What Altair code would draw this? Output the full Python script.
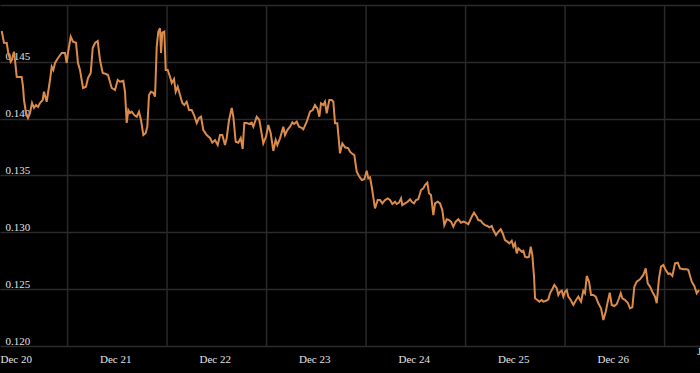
import altair as alt
import pandas as pd

# time in hours since Dec 20 00:00
hours = [0.41, 0.96, 1.62, 2.0, 2.58, 2.82, 3.38, 3.62, 4.03, 4.58, 5.23, 5.55, 5.79, 6.27, 6.75, 7.24,
         7.72, 8.2, 8.68, 9.17, 9.65, 10.3, 10.61, 11.26, 12.06, 12.47, 12.86, 13.27, 13.99, 14.88, 15.68,
         16.09, 16.4, 17.05, 17.61, 18.33, 18.81, 19.3, 20.02, 20.74, 21.23, 21.88, 22.36, 22.92, 23.57,
         24.12, 24.77, 25.57, 26.05, 26.94, 27.74, 28.39, 28.95, 29.74, 30.15, 30.56, 30.95, 31.36, 31.77,
         32.39, 32.97, 33.53, 34.01, 34.57, 35.14, 35.53, 35.94, 36.42, 36.98, 37.39, 37.8, 38.18, 38.59,
         38.84, 39.15, 39.63, 39.97, 40.45, 41.01, 41.42, 41.97, 42.38, 42.86, 43.42, 43.97, 44.46, 45.03,
         45.59, 46.24, 46.8, 47.45, 48.0, 48.48, 49.04, 49.86, 50.65, 51.21, 51.86, 52.51, 53.07, 53.62,
         54.27, 54.68, 55.24, 55.89, 56.28, 56.85, 57.48, 58.06, 58.54, 58.93, 59.51, 60.13, 60.71, 61.1,
         61.92, 62.55, 63.51, 64.16, 64.72, 65.3, 65.92, 66.5, 66.89, 67.54, 68.34, 68.74, 69.3, 69.95,
         70.51, 70.92, 71.57, 72.12, 72.77, 73.16, 73.98, 74.78, 75.42, 75.98, 76.54, 77.02, 77.43, 77.99,
         78.39, 78.8, 79.43, 80.01, 80.4, 80.81, 81.36, 82.01, 82.57, 83.22, 84.01, 84.42, 84.83, 85.46,
         86.04, 86.59, 87.25, 87.87, 88.45, 88.84, 89.25, 89.66, 90.45, 91.1, 91.66, 92.22, 92.87, 93.51,
         94.07, 94.63, 95.28, 95.69, 96.24, 96.73, 97.04, 97.69, 98.34, 98.9, 99.31, 99.86, 100.34, 100.9,
         101.55, 102.1, 102.51, 103.07, 103.48, 103.96, 104.52, 104.93, 105.58, 106.13, 106.69, 107.17,
         107.75, 108.3, 108.79, 109.34, 109.92, 110.55, 111.2, 111.76, 112.29, 112.96, 113.78, 114.33,
         114.98, 115.37, 115.95, 116.43, 116.99, 117.54, 118.02, 118.6, 118.99, 119.64, 120.19, 120.78,
         121.26, 121.81, 122.37, 122.85, 123.43, 123.82, 124.22, 124.63, 125.02, 125.43, 125.84, 126.23,
         126.64, 127.19, 127.6, 128.01, 128.4, 128.81, 129.05, 129.6, 130.09, 130.66, 131.05, 131.7,
         132.26, 132.66, 133.32, 133.7, 134.28, 134.67, 135.08, 135.49, 135.88, 136.28, 136.69, 137.08,
         137.66, 138.29, 138.94, 139.5, 140.14, 140.7, 141.11, 141.52, 142.08, 142.56, 143.11, 143.69,
         144.32, 144.97, 145.53, 146.1, 146.59, 147.07, 147.55, 148.17, 148.75, 149.31, 149.72, 150.11,
         150.76, 151.41, 151.96, 152.52, 153.0, 153.58, 154.37, 155.17, 155.75, 156.23, 156.79, 157.34,
         157.99, 158.4, 158.96, 159.44, 160.0, 160.57, 161.2, 161.61, 162.17, 162.82, 163.47, 164.02,
         164.82, 165.64, 166.03, 166.85, 167.47, 168.05, 168.6]

values = [0.14771, 0.14668, 0.14666, 0.14578, 0.14501, 0.14516, 0.14589, 0.14516, 0.14369, 0.14367,
          0.14367, 0.14281, 0.14164, 0.14050, 0.14006, 0.14050, 0.14138, 0.14094, 0.14120, 0.14103,
          0.14138, 0.14164, 0.14237, 0.14149, 0.14340, 0.14457, 0.14428, 0.14490, 0.14534, 0.14578,
          0.14578, 0.14490, 0.14578, 0.14721, 0.14677, 0.14668, 0.14490, 0.14428, 0.14270, 0.14281,
          0.14358, 0.14402, 0.14622, 0.14666, 0.14683, 0.14516, 0.14402, 0.14393, 0.14384, 0.14270,
          0.14252, 0.14340, 0.14325, 0.14334, 0.14237, 0.13962, 0.14076, 0.14050, 0.14061, 0.14032,
          0.14017, 0.14061, 0.13988, 0.13856, 0.13874, 0.13929, 0.14208, 0.14237, 0.14228, 0.14193,
          0.14633, 0.14765, 0.14795, 0.14578, 0.14756, 0.14765, 0.14428, 0.14428, 0.14369, 0.14314,
          0.14349, 0.14237, 0.14281, 0.14208, 0.14138, 0.14120, 0.14149, 0.14076, 0.14076, 0.14032,
          0.13962, 0.14006, 0.14017, 0.13900, 0.13856, 0.13830, 0.13789, 0.13812, 0.13768, 0.13856,
          0.13856, 0.13768, 0.13830, 0.13988, 0.14094, 0.14017, 0.13797, 0.13789, 0.13830, 0.13733,
          0.13962, 0.13962, 0.13953, 0.13964, 0.13929, 0.14017, 0.13988, 0.13783, 0.13841, 0.13944,
          0.13871, 0.13716, 0.13812, 0.13768, 0.13827, 0.13929, 0.13856, 0.13900, 0.13929, 0.13968,
          0.13953, 0.13973, 0.13929, 0.13920, 0.13906, 0.13973, 0.14061, 0.14076, 0.14120, 0.14091,
          0.14017, 0.14135, 0.14120, 0.14149, 0.14047, 0.14164, 0.14164, 0.14149, 0.13959, 0.13959,
          0.13695, 0.13783, 0.13748, 0.13739, 0.13709, 0.13695, 0.13680, 0.13533, 0.13496, 0.13460,
          0.13467, 0.13542, 0.13475, 0.13484, 0.13401, 0.13211, 0.13284, 0.13284, 0.13255, 0.13284,
          0.13299, 0.13284, 0.13249, 0.13269, 0.13249, 0.13261, 0.13299, 0.13240, 0.13255, 0.13269,
          0.13291, 0.13269, 0.13255, 0.13284, 0.13291, 0.13372, 0.13387, 0.13416, 0.13437, 0.13343,
          0.13328, 0.13152, 0.13255, 0.13269, 0.13255, 0.13196, 0.13064, 0.13115, 0.13108, 0.13094,
          0.13050, 0.13094, 0.13115, 0.13085, 0.13094, 0.13087, 0.13071, 0.13138, 0.13173, 0.13138,
          0.13108, 0.13102, 0.13079, 0.13064, 0.13056, 0.13044, 0.13056, 0.13020, 0.12976, 0.13005,
          0.13027, 0.12991, 0.12932, 0.12918, 0.12903, 0.12926, 0.12874, 0.12903, 0.12815, 0.12859,
          0.12845, 0.12830, 0.12838, 0.12786, 0.12780, 0.12786, 0.12874, 0.12800, 0.12610, 0.12420,
          0.12405, 0.12390, 0.12405, 0.12390, 0.12398, 0.12411, 0.12464, 0.12508, 0.12537, 0.12508,
          0.12449, 0.12478, 0.12486, 0.12434, 0.12478, 0.12493, 0.12434, 0.12405, 0.12361, 0.12405,
          0.12434, 0.12390, 0.12486, 0.12464, 0.12616, 0.12566, 0.12449, 0.12449, 0.12434, 0.12376,
          0.12332, 0.12229, 0.12302, 0.12390, 0.12469, 0.12361, 0.12352, 0.12369, 0.12420, 0.12464,
          0.12420, 0.12405, 0.12381, 0.12332, 0.12340, 0.12522, 0.12566, 0.12587, 0.12625, 0.12683,
          0.12551, 0.12522, 0.12478, 0.12434, 0.12376, 0.12596, 0.12698, 0.12713, 0.12669, 0.12633,
          0.12639, 0.12616, 0.12727, 0.12733, 0.12683, 0.12675, 0.12675, 0.12669, 0.12566, 0.12528,
          0.12464, 0.12493]

# x-axis tick positions (hours) and their labels
tick_hours = [0, 24, 48, 72, 96, 120, 144, 168]
tick_labels = ["Dec 20", "Dec 21", "Dec 22", "Dec 23", "Dec 24", "Dec 25", "Dec 26", "J"]

# vertical grid line positions (hours)
grid_hours = [16.3, 40.3, 64.3, 88.3, 112.3, 136.3, 160.3]

y_ticks = [0.120, 0.125, 0.130, 0.135, 0.140, 0.145, 0.150]

df = pd.DataFrame({"hour": hours, "value": values})
gdf = pd.DataFrame({"hour": grid_hours})

FONT = "Liberation Serif"
label_js = "[" + ",".join("'%s'" % s for s in tick_labels) + "]"
ticks_js = "[" + ",".join(str(t) for t in tick_hours) + "]"

xscale = alt.Scale(domain=[0, 168.84], nice=False, zero=False)
yscale = alt.Scale(domain=[0.12, 0.15], nice=False, zero=False)

x_axis = alt.Axis(
    values=tick_hours,
    grid=False,
    domain=False,
    ticks=False,
    labelAlign="left",
    labelBaseline="top",
    labelPadding={"condition": {"test": "datum.value >= 168", "value": -1}, "value": 7},
    labelFont=FONT,
    labelFontSize=11,
    labelColor="#e0e0e0",
    labelExpr=label_js + "[indexof(" + ticks_js + ", datum.value)]",
    labelOverlap=False,
    labelBound=False,
    labelFlush=False,
    title=None,
)

y_axis = alt.Axis(
    values=y_ticks,
    grid=True,
    gridColor="#2b2b2b",
    gridWidth=1.5,
    domain=False,
    ticks=False,
    labelAlign="left",
    labelBaseline="alphabetic",
    labelPadding=-5,
    labelOffset=-2,
    labelFont=FONT,
    labelFontSize=11,
    labelColor="#e0e0e0",
    labelExpr="datum.value >= 0.1499 ? '' : format(datum.value, '.3f')",
    labelOverlap=False,
    labelBound=False,
    labelFlush=False,
    title=None,
)

grid = alt.Chart(gdf).mark_rule(color="#292929", strokeWidth=1.5).encode(
    x=alt.X("hour:Q", scale=xscale, axis=x_axis)
)

line = alt.Chart(df).mark_line(color="#DC8B4A", strokeWidth=2, interpolate="linear").encode(
    x=alt.X("hour:Q", scale=xscale, axis=x_axis),
    y=alt.Y("value:Q", scale=yscale, axis=y_axis),
)

chart = alt.layer(grid, line).properties(
    width=700,
    height=341,
    autosize=alt.AutoSizeParams(type="none"),
    padding={"left": 0, "top": 5, "right": 0, "bottom": 27},
    background="#000000",
).configure_view(stroke=None, fill="#000000")

chart.save("out.html", embed_options={"renderer": "svg", "actions": False})
